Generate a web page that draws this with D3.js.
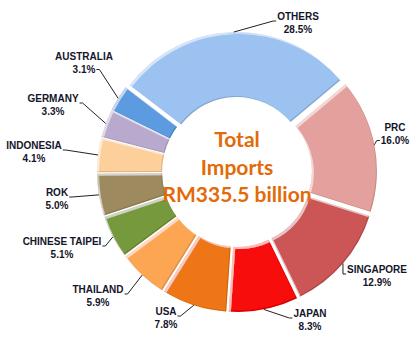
<!DOCTYPE html>
<html>
<head>
<meta charset="utf-8">
<script src="https://cdn.jsdelivr.net/npm/d3@7"></script>
<style>
  html, body { margin: 0; padding: 0; background: #fff; }
  svg { display: block; }
</style>
</head>
<body>
<svg id="chart" width="420" height="350"></svg>
<script>
// Import sources, clockwise from the PRC slice
const categories = ["PRC", "SINGAPORE", "JAPAN", "USA", "THAILAND", "CHINESE TAIPEI",
                    "ROK", "INDONESIA", "GERMANY", "AUSTRALIA", "OTHERS"];
const shares = [16.0, 12.9, 8.3, 7.8, 5.9, 5.1, 5.0, 4.1, 3.3, 3.1, 28.5];
const centreLines = ["Total", "Imports", "RM335.5 billion"];

// Presentation
const sliceColors = ["#E4A09C", "#CB5754", "#F80808", "#EE7614", "#FCA552", "#77993D",
                     "#9D8B5E", "#FCCF9B", "#B9A9CE", "#5B9BDF", "#9BC2F0"];
// Label placement: name centre x, name baseline y, which line the leader leaves from, and on which side
const labelSpots = [
  { x: 395, y: 131, from: "pct",  side: "left"  },
  { x: 377, y: 273, from: "name", side: "left"  },
  { x: 310, y: 317, from: "name", side: "left"  },
  { x: 166, y: 315, from: "name", side: "right" },
  { x: 98,  y: 293, from: "name", side: "right" },
  { x: 62,  y: 245, from: "name", side: "right" },
  { x: 57,  y: 196, from: "name", side: "right" },
  { x: 34,  y: 149, from: "name", side: "right" },
  { x: 53,  y: 102, from: "name", side: "right" },
  { x: 84,  y: 60,  from: "pct",  side: "right" },
  { x: 298, y: 20,  from: "name", side: "left"  }
];

const cx = 237, cy = 172;
const outerR = 135, innerR = 70, explode = 5;
const startDeg = 50;

const svg = d3.select("#chart");

// Soft bevel: light rim on edges facing up-left, shade on edges facing down-right
const defs = svg.append("defs");
const f = defs.append("filter").attr("id", "bevel")
  .attr("x", "-10%").attr("y", "-10%").attr("width", "120%").attr("height", "120%");
f.append("feOffset").attr("in", "SourceAlpha").attr("dx", 1.6).attr("dy", 1.6).attr("result", "s1");
f.append("feComposite").attr("in", "SourceAlpha").attr("in2", "s1").attr("operator", "out").attr("result", "hiMask");
f.append("feFlood").attr("flood-color", "#ffffff").attr("flood-opacity", 0.5).attr("result", "hiCol");
f.append("feComposite").attr("in", "hiCol").attr("in2", "hiMask").attr("operator", "in").attr("result", "hi");
f.append("feOffset").attr("in", "SourceAlpha").attr("dx", -1.3).attr("dy", -1.3).attr("result", "s2");
f.append("feComposite").attr("in", "SourceAlpha").attr("in2", "s2").attr("operator", "out").attr("result", "loMask");
f.append("feFlood").attr("flood-color", "#000000").attr("flood-opacity", 0.28).attr("result", "loCol");
f.append("feComposite").attr("in", "loCol").attr("in2", "loMask").attr("operator", "in").attr("result", "lo");
const merge = f.append("feMerge");
merge.append("feMergeNode").attr("in", "SourceGraphic");
merge.append("feMergeNode").attr("in", "hi");
merge.append("feMergeNode").attr("in", "lo");

const rows = categories.map((c, i) => ({ name: c, value: shares[i], color: sliceColors[i], spot: labelSpots[i] }));

const start = startDeg * Math.PI / 180;
const pie = d3.pie().value(d => d.value).sort(null)
  .startAngle(start).endAngle(start + 2 * Math.PI);
const arcs = pie(rows);

const arc = d3.arc().innerRadius(innerR).outerRadius(outerR);

const midAngle = a => (a.startAngle + a.endAngle) / 2;

const g = svg.append("g").attr("transform", `translate(${cx},${cy})`);

g.selectAll("path.slice")
  .data(arcs)
  .join("path")
  .attr("class", "slice")
  .attr("d", arc)
  .attr("fill", d => d.data.color)
  .attr("filter", "url(#bevel)")
  .attr("transform", d => {
    const m = midAngle(d);
    return `translate(${explode * Math.sin(m)},${-explode * Math.cos(m)})`;
  });

// Labels
const fmt = d3.format(".1f");
const labelFont = "bold 10px 'Liberation Sans', Arial, sans-serif";
const ctx = document.createElement("canvas").getContext("2d");
ctx.font = labelFont;

const lab = svg.append("g")
  .attr("font-family", "'Liberation Sans', Arial, sans-serif")
  .attr("font-weight", "bold")
  .attr("font-size", 10)
  .attr("fill", "#15152a")
  .attr("text-anchor", "middle");

arcs.forEach(a => {
  const s = a.data.spot;
  const pct = fmt(a.data.value) + "%";
  lab.append("text").attr("x", s.x).attr("y", s.y).text(a.data.name);
  lab.append("text").attr("x", s.x).attr("y", s.y + 12.5).text(pct);

  // leader from label edge to the slice rim at its mid angle
  const txt = s.from === "name" ? a.data.name : pct;
  const w = ctx.measureText(txt).width;
  const ly = s.from === "name" ? s.y + 1 : s.y + 12.5 - 3;
  const x0 = s.side === "left" ? s.x - w / 2 - 1 : s.x + w / 2 + 1;
  const x1 = s.side === "left" ? x0 - 3 : x0 + 3;
  const m = midAngle(a);
  const r = outerR + explode;
  const px = cx + r * Math.sin(m), py = cy - r * Math.cos(m);
  svg.append("path")
    .attr("d", d3.line()([[x0, ly], [x1, ly], [px, py]]))
    .attr("fill", "none")
    .attr("stroke", "#222")
    .attr("stroke-width", 1);
});

// Centre caption
const cap = svg.append("g")
  .attr("font-family", "Lato, 'Open Sans', sans-serif")
  .attr("font-weight", "bold")
  .attr("font-size", 21)
  .attr("fill", "#E36A08")
  .attr("text-anchor", "middle");
const baselines = [147, 175, 202];
centreLines.forEach((t, i) => {
  cap.append("text").attr("x", cx).attr("y", baselines[i]).text(t);
});
</script>
</body>
</html>
